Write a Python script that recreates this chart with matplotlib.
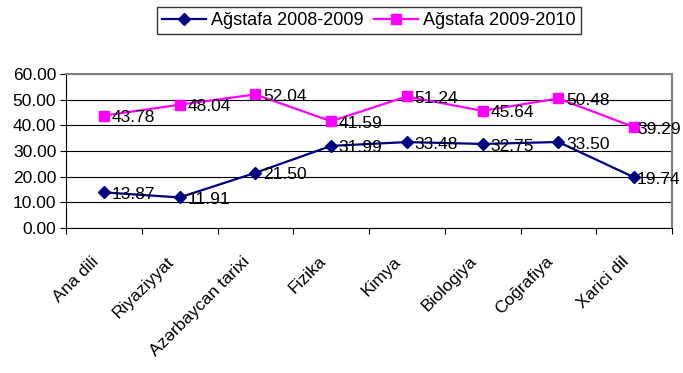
import matplotlib
matplotlib.use("Agg")
import matplotlib.pyplot as plt
import matplotlib.transforms as mtransforms
from matplotlib.ticker import FixedLocator, NullFormatter, FixedFormatter

plt.rcParams['font.family'] = ['Liberation Sans', 'DejaVu Sans']

categories = ["Ana dili", "Riyaziyyat", "Azərbaycan tarixi", "Fizika", "Kimya",
              "Biologiya", "Coğrafiya", "Xarici dil"]
series_2008 = [13.87, 11.91, 21.50, 31.99, 33.48, 32.75, 33.50, 19.74]
series_2009 = [43.78, 48.04, 52.04, 41.59, 51.24, 45.64, 50.48, 39.29]
label_2008 = "Ağstafa 2008-2009"
label_2009 = "Ağstafa 2009-2010"
yticks = [0, 10, 20, 30, 40, 50, 60]

W, H = 683, 373
fig = plt.figure(figsize=(W / 100, H / 100), dpi=100)
L, R, T, B = 66, 672, 74, 228
ax = fig.add_axes([L / W, 1 - B / H, (R - L) / W, (B - T) / H])

x = [i + 0.5 for i in range(len(categories))]
l1, = ax.plot(x, series_2008, color='#000080', marker='D', markersize=6, lw=1.6,
              label=label_2008, zorder=3)
l2, = ax.plot(x, series_2009, color='#FF00FF', marker='s', markersize=6.5, lw=1.6,
              label=label_2009, zorder=3)

n = len(categories)
for series in (series_2008, series_2009):
    for i, (xi, v) in enumerate(zip(x, series)):
        dx = 2 if i == n - 1 else 5.5
        ax.annotate(f"{v:.2f}", (xi, v), xytext=(dx, -1.5), textcoords='offset points',
                    ha='left', va='center', fontsize=12.5, zorder=4,
                    annotation_clip=False)

ax.set_xlim(0, n)
ax.set_ylim(0, 60)
ax.set_yticks(yticks)
ax.set_yticklabels([f"{t:.2f}" for t in yticks], fontsize=12.5)
ax.yaxis.grid(True, color='black', lw=0.8)
ax.set_axisbelow(True)

ax.xaxis.set_major_locator(FixedLocator(range(n + 1)))
ax.xaxis.set_major_formatter(NullFormatter())
ax.xaxis.set_minor_locator(FixedLocator(x))
ax.xaxis.set_minor_formatter(FixedFormatter(categories))
ax.tick_params(axis='x', which='minor', length=0, pad=0)
ax.tick_params(axis='x', which='major', length=4, color='black')
ax.tick_params(axis='y', length=4, color='black', pad=3)
offset = mtransforms.ScaledTranslation(-8 / 100, -31 / 100, fig.dpi_scale_trans)
for lab in ax.xaxis.get_minorticklabels():
    lab.set_rotation(45)
    lab.set_ha('right')
    lab.set_va('center')
    lab.set_rotation_mode('anchor')
    lab.set_fontsize(12.5)
    lab.set_transform(lab.get_transform() + offset)

ax.spines['left'].set_color('black')
ax.spines['bottom'].set_color('black')
ax.spines['top'].set_color('#808080')
ax.spines['right'].set_color('#808080')
ax.spines['top'].set_linewidth(1.5)
ax.spines['right'].set_linewidth(1.5)

leg = fig.legend(handles=[l1, l2], loc='center', bbox_to_anchor=(369 / W, 1 - 20.5 / H),
                 ncol=2, frameon=True, fancybox=False, edgecolor='black',
                 fontsize=13, handlelength=2.4, columnspacing=0.6, handletextpad=0.3,
                 borderpad=0.3)
leg.get_frame().set_linewidth(1.0)

fig.savefig("out.png", dpi=100)
